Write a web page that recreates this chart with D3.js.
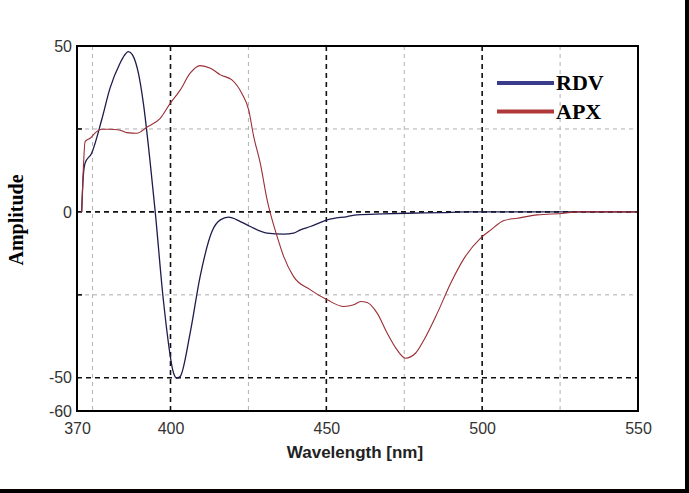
<!DOCTYPE html>
<html>
<head>
<meta charset="utf-8">
<script src="https://cdn.jsdelivr.net/npm/d3@7"></script>
<style>
  body { margin: 0; background: #fff; }
  svg { display: block; }
</style>
</head>
<body>
<div id="vis"></div>
<script>
// frame constants
const FRAME_WIDTH = 689;
const FRAME_HEIGHT = 493;
const PLOT = {left: 77, right: 638, top: 46, bottom: 411};

// data
const RDV_X = [371.5, 372, 372.6, 374.7, 377.9, 380.6, 383.8, 385.2, 386.5, 387.8, 389.7, 391.3,
               393.5, 395.1, 397.7, 401, 402, 403.1, 406.3, 409.5, 413.3, 416, 418.6, 422.4, 425.6,
               431, 436.3, 439.5, 441.7, 444.9, 450.3, 456.7, 459.9, 468, 476, 487.3, 495, 550];
const RDV_Y = [0, 10.6, 14.7, 17.7, 27.7, 37.3, 44.8, 47.2, 48.3, 47.3, 41.8, 32.7,
               14.7, 0, -26.5, -48.6, -50.1, -49.6, -36.5, -19.5, -5.9, -2.4, -1.6, -2.9, -4.4,
               -6.4, -6.7, -6.4, -5.4, -4.4, -2.4, -1.4, -0.9, -0.6, -0.4, -0.2, 0, 0];

const APX_X = [371.5, 371.9, 372.6, 374.2, 376.3, 377.9, 380.6, 383.6, 386, 389.2, 392.4, 396.7,
               399.9, 403.1, 406.3, 409.5, 412.8, 416, 419.7, 422.9, 425.1, 426.7, 428.8, 431,
               434.2, 436.3, 439.5, 444.9, 450.3, 455.6, 458.8, 461, 463.1, 466.3, 469.5, 472.7,
               475.4, 478.6, 481.3, 485.6, 489.9, 494.2, 499.5, 502.8, 507, 511.3, 517.7, 526.3,
               530, 550];
const APX_Y = [0, 10, 21.2, 22.2, 24.2, 24.9, 24.9, 24.7, 23.9, 23.7, 25.5, 28.2,
               32.7, 36.7, 41.8, 44.1, 43.3, 41.3, 39.8, 35.7, 30.7, 22.7, 14.7, 3.6,
               -7.4, -13.4, -19.5, -23.5, -26.5, -28.5, -28, -27, -27.3, -30.5, -36.5, -41.6,
               -44.1, -42.6, -38.6, -30.5, -21.5, -14, -7.9, -5.4, -2.6, -1.9, -0.9, -0.4,
               0, 0];

const X_TICKS = [370, 400, 450, 500, 550];
const Y_TICKS = [50, 0, -50, -60];
const X_MAJOR = [400, 450, 500];
const X_MINOR = [375, 425, 475, 525];
const Y_MAJOR = [0, -50];
const Y_MINOR = [25, -25];
const SERIES = ["RDV", "APX"];

const SANS = "Arial, 'Liberation Sans', sans-serif";
const SERIF = "'Times New Roman', 'Liberation Serif', serif";

const FRAME = d3.select("#vis")
                  .append("svg")
                    .attr("width", FRAME_WIDTH)
                    .attr("height", FRAME_HEIGHT);

// outer black border on right and bottom
FRAME.append("rect").attr("x", 685).attr("y", 0).attr("width", 4).attr("height", FRAME_HEIGHT).attr("fill", "#000");
FRAME.append("rect").attr("x", 0).attr("y", 489).attr("width", FRAME_WIDTH).attr("height", 4).attr("fill", "#000");

const X_SCALE = d3.scaleLinear().domain([370, 550]).range([PLOT.left, PLOT.right]);
const Y_SCALE = d3.scaleLinear().domain([-60, 50]).range([PLOT.bottom, PLOT.top]);

// grid lines
const grid = FRAME.append("g");
X_MINOR.forEach((v) => {
  grid.append("line")
      .attr("x1", X_SCALE(v)).attr("x2", X_SCALE(v))
      .attr("y1", PLOT.top).attr("y2", PLOT.bottom)
      .attr("stroke", "#b0b0b0").attr("stroke-width", 1).attr("stroke-dasharray", "4,4");
});
Y_MINOR.forEach((v) => {
  grid.append("line")
      .attr("x1", PLOT.left).attr("x2", PLOT.right)
      .attr("y1", Y_SCALE(v)).attr("y2", Y_SCALE(v))
      .attr("stroke", "#b0b0b0").attr("stroke-width", 1).attr("stroke-dasharray", "4,4");
});
X_MAJOR.forEach((v) => {
  grid.append("line")
      .attr("x1", X_SCALE(v)).attr("x2", X_SCALE(v))
      .attr("y1", PLOT.top).attr("y2", PLOT.bottom)
      .attr("stroke", "#111").attr("stroke-width", 1.6).attr("stroke-dasharray", "5,4");
});
Y_MAJOR.forEach((v) => {
  grid.append("line")
      .attr("x1", PLOT.left).attr("x2", PLOT.right)
      .attr("y1", Y_SCALE(v)).attr("y2", Y_SCALE(v))
      .attr("stroke", "#111").attr("stroke-width", 1.6).attr("stroke-dasharray", "5,4");
});

// small inner ticks on the left axis
Y_MINOR.forEach((v) => {
  grid.append("line")
      .attr("x1", PLOT.left).attr("x2", PLOT.left + 5)
      .attr("y1", Y_SCALE(v)).attr("y2", Y_SCALE(v))
      .attr("stroke", "#000").attr("stroke-width", 1.5);
});

// curves
const line = d3.line()
                 .x((d) => X_SCALE(d[0]))
                 .y((d) => Y_SCALE(d[1]))
                 .curve(d3.curveMonotoneX);

const rdv = RDV_X.map((x, i) => [x, RDV_Y[i]]);
const apx = APX_X.map((x, i) => [x, APX_Y[i]]);

FRAME.append("path").datum(rdv).attr("d", line)
     .attr("fill", "none").attr("stroke", "#1c1c4e").attr("stroke-width", 1.3);
FRAME.append("path").datum(apx).attr("d", line)
     .attr("fill", "none").attr("stroke", "#9a2e34").attr("stroke-width", 1.1);

// plot frame
FRAME.append("rect")
     .attr("x", PLOT.left).attr("y", PLOT.top)
     .attr("width", PLOT.right - PLOT.left).attr("height", PLOT.bottom - PLOT.top)
     .attr("fill", "none").attr("stroke", "#000").attr("stroke-width", 2);

// axes (plain hyphen for negatives, like the original)
const xAxis = FRAME.append("g")
     .attr("transform", "translate(0," + PLOT.bottom + ")")
     .call(d3.axisBottom(X_SCALE).tickValues(X_TICKS).tickSize(0).tickPadding(12).tickFormat((d) => String(d)));
xAxis.select(".domain").remove();
xAxis.selectAll("text").attr("font-family", SANS).attr("font-size", "16px").attr("fill", "#333");

const yAxis = FRAME.append("g")
     .attr("transform", "translate(" + PLOT.left + ",0)")
     .call(d3.axisLeft(Y_SCALE).tickValues(Y_TICKS).tickSize(0).tickPadding(5).tickFormat((d) => String(d)));
yAxis.select(".domain").remove();
yAxis.selectAll("text").attr("font-family", SANS).attr("font-size", "16px").attr("fill", "#333");

// axis titles
FRAME.append("text")
     .attr("x", 355).attr("y", 458)
     .attr("text-anchor", "middle")
     .attr("font-family", SANS).attr("font-weight", "bold").attr("font-size", "17px")
     .attr("fill", "#222")
     .text("Wavelength [nm]");

FRAME.append("text")
     .attr("transform", "translate(23,220) rotate(-90)")
     .attr("text-anchor", "middle")
     .attr("font-family", SERIF).attr("font-weight", "bold").attr("font-size", "20px")
     .attr("fill", "#000")
     .text("Amplitude");

// legend
const LEGEND_COLORS = ["#3b3b8c", "#b03838"];
SERIES.forEach((name, i) => {
  const y = 83 + i * 28.5;
  FRAME.append("line")
       .attr("x1", 497).attr("x2", 554).attr("y1", y).attr("y2", y)
       .attr("stroke", LEGEND_COLORS[i]).attr("stroke-width", 4);
  FRAME.append("text")
       .attr("x", 556).attr("y", y + 7)
       .attr("font-family", SERIF).attr("font-weight", "bold").attr("font-size", "22px")
       .attr("fill", "#000")
       .text(name);
});
</script>
</body>
</html>
